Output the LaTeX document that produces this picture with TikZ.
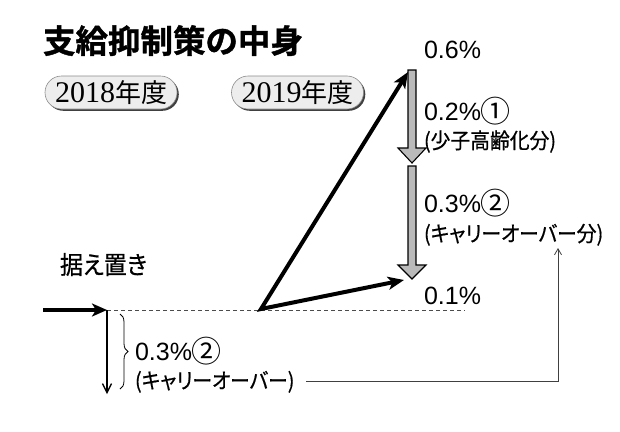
\documentclass[tikz,border=0pt]{standalone}
\usepackage{fontspec}
\setmainfont{Liberation Sans}
\newfontfamily\jp[RawFeature=+palt,FakeBold=0.6,FakeStretch=0.92]{Noto Sans CJK JP}
\newfontfamily\jpn{Noto Sans CJK JP}
\newfontfamily\jpb[FakeBold=1.2]{Noto Sans CJK JP Bold}
\newfontfamily\sernum{Liberation Serif}
\newcommand\circd[1]{\raisebox{-2.8pt}{\jpn\fontsize{30}{30}\selectfont #1}}
\usetikzlibrary{arrows.meta,decorations.pathreplacing,shapes.misc,shadows}
\begin{document}
\begin{tikzpicture}[x=1pt,y=-1pt,
  txt/.style={anchor=base west, inner sep=0pt, outer sep=0pt},
  num/.style={txt, font=\fontsize{25}{25}\selectfont},
  jtxt/.style={txt, font=\jp\fontsize{21.5}{21.5}\selectfont},
  pill/.style={rounded rectangle, fill=black!7, draw=black!45, line width=0.6pt,
    minimum width=132pt, minimum height=33pt, inner sep=0pt,
    drop shadow={shadow xshift=1.8pt, shadow yshift=-1.8pt, fill=black!75, opacity=1}},
  bigarrow/.style={line width=4pt, line join=miter},
  grayarr/.style={fill=black!27, draw=black, line width=1.1pt, line join=miter},
  thinline/.style={draw=black!75, line width=0.8pt},
]
\useasboundingbox (0,0) rectangle (620,431);

% title
\node[txt, font=\jpb\fontsize{32.5}{32.5}\selectfont] (title) at (43,53) {支給抑制策の中身};

% year pills
\node[pill] (y18) at (111,92.5) {{\sernum\fontsize{30}{30}\selectfont 2018}{\jpn\fontsize{26}{26}\selectfont 年度}};
\node[pill] (y19) at (297.5,92.5) {{\sernum\fontsize{30}{30}\selectfont 2019}{\jpn\fontsize{26}{26}\selectfont 年度}};

% labels
\node[txt, font=\jp\fontsize{25}{25}\selectfont] (sue) at (60,274) {据え置き};
\node[num] (v06) at (424,58) {0.6\%};
\node[num] (v02) at (424,120) {0.2\%\circd{①}};
\node[jtxt] (l1) at (424,148.5) {(少子高齢化分)};
\node[num] (v03) at (424,212) {0.3\%\circd{②}};
\node[jtxt] (l2) at (424,241.5) {(キャリーオーバー分)};
\node[num] (v01) at (424,304) {0.1\%};
\node[num] (w03) at (135,360) {0.3\%\circd{②}};
\node[jtxt] (l3) at (135,388.5) {(キャリーオーバー)};

% coordinates
\coordinate (src) at (43,310);
\coordinate (base) at (107,310);
\coordinate (pivot) at (261,309);
\coordinate (hi) at (408,72);
\coordinate (lo) at (404,280);
\coordinate (dashend) at (465,310);
\coordinate (down) at (107,394);
\coordinate (bt) at (120,314);
\coordinate (bb) at (120,389);
\coordinate (up) at (558,248);

% dashed base line
\draw[dash pattern=on 4pt off 3pt, draw=black!70, line width=0.8pt] (base) -- (dashend);

% thick arrows
\draw[bigarrow, -{Stealth[length=15pt,width=13pt,inset=4pt]}] (src) -- (base);
\draw[bigarrow, {Stealth[length=16pt,width=13pt,inset=4pt]}-{Stealth[length=16pt,width=13pt,inset=4pt]}] (hi) -- (pivot) -- (lo);

% down arrow and brace
\draw[line width=1.3pt, -{Straight Barb[length=9pt,width=9pt]}] (base) -- (down);
\draw[line width=0.8pt, decorate, decoration={brace, amplitude=8pt}] (bt) -- (bb);

% gray arrows
\filldraw[grayarr] (408,70) -- (416,70) -- (416,148) -- (426,148) -- (412,163) -- (398,148) -- (408,148) -- cycle;
\filldraw[grayarr] (408,166) -- (416,166) -- (416,265) -- (426,265) -- (412,279) -- (398,265) -- (408,265) -- cycle;

% carry-over connector
\draw[thinline, -{Straight Barb[length=6pt,width=7pt]}] ([xshift=12pt]l3.east) -| (up);
\end{tikzpicture}
\end{document}
